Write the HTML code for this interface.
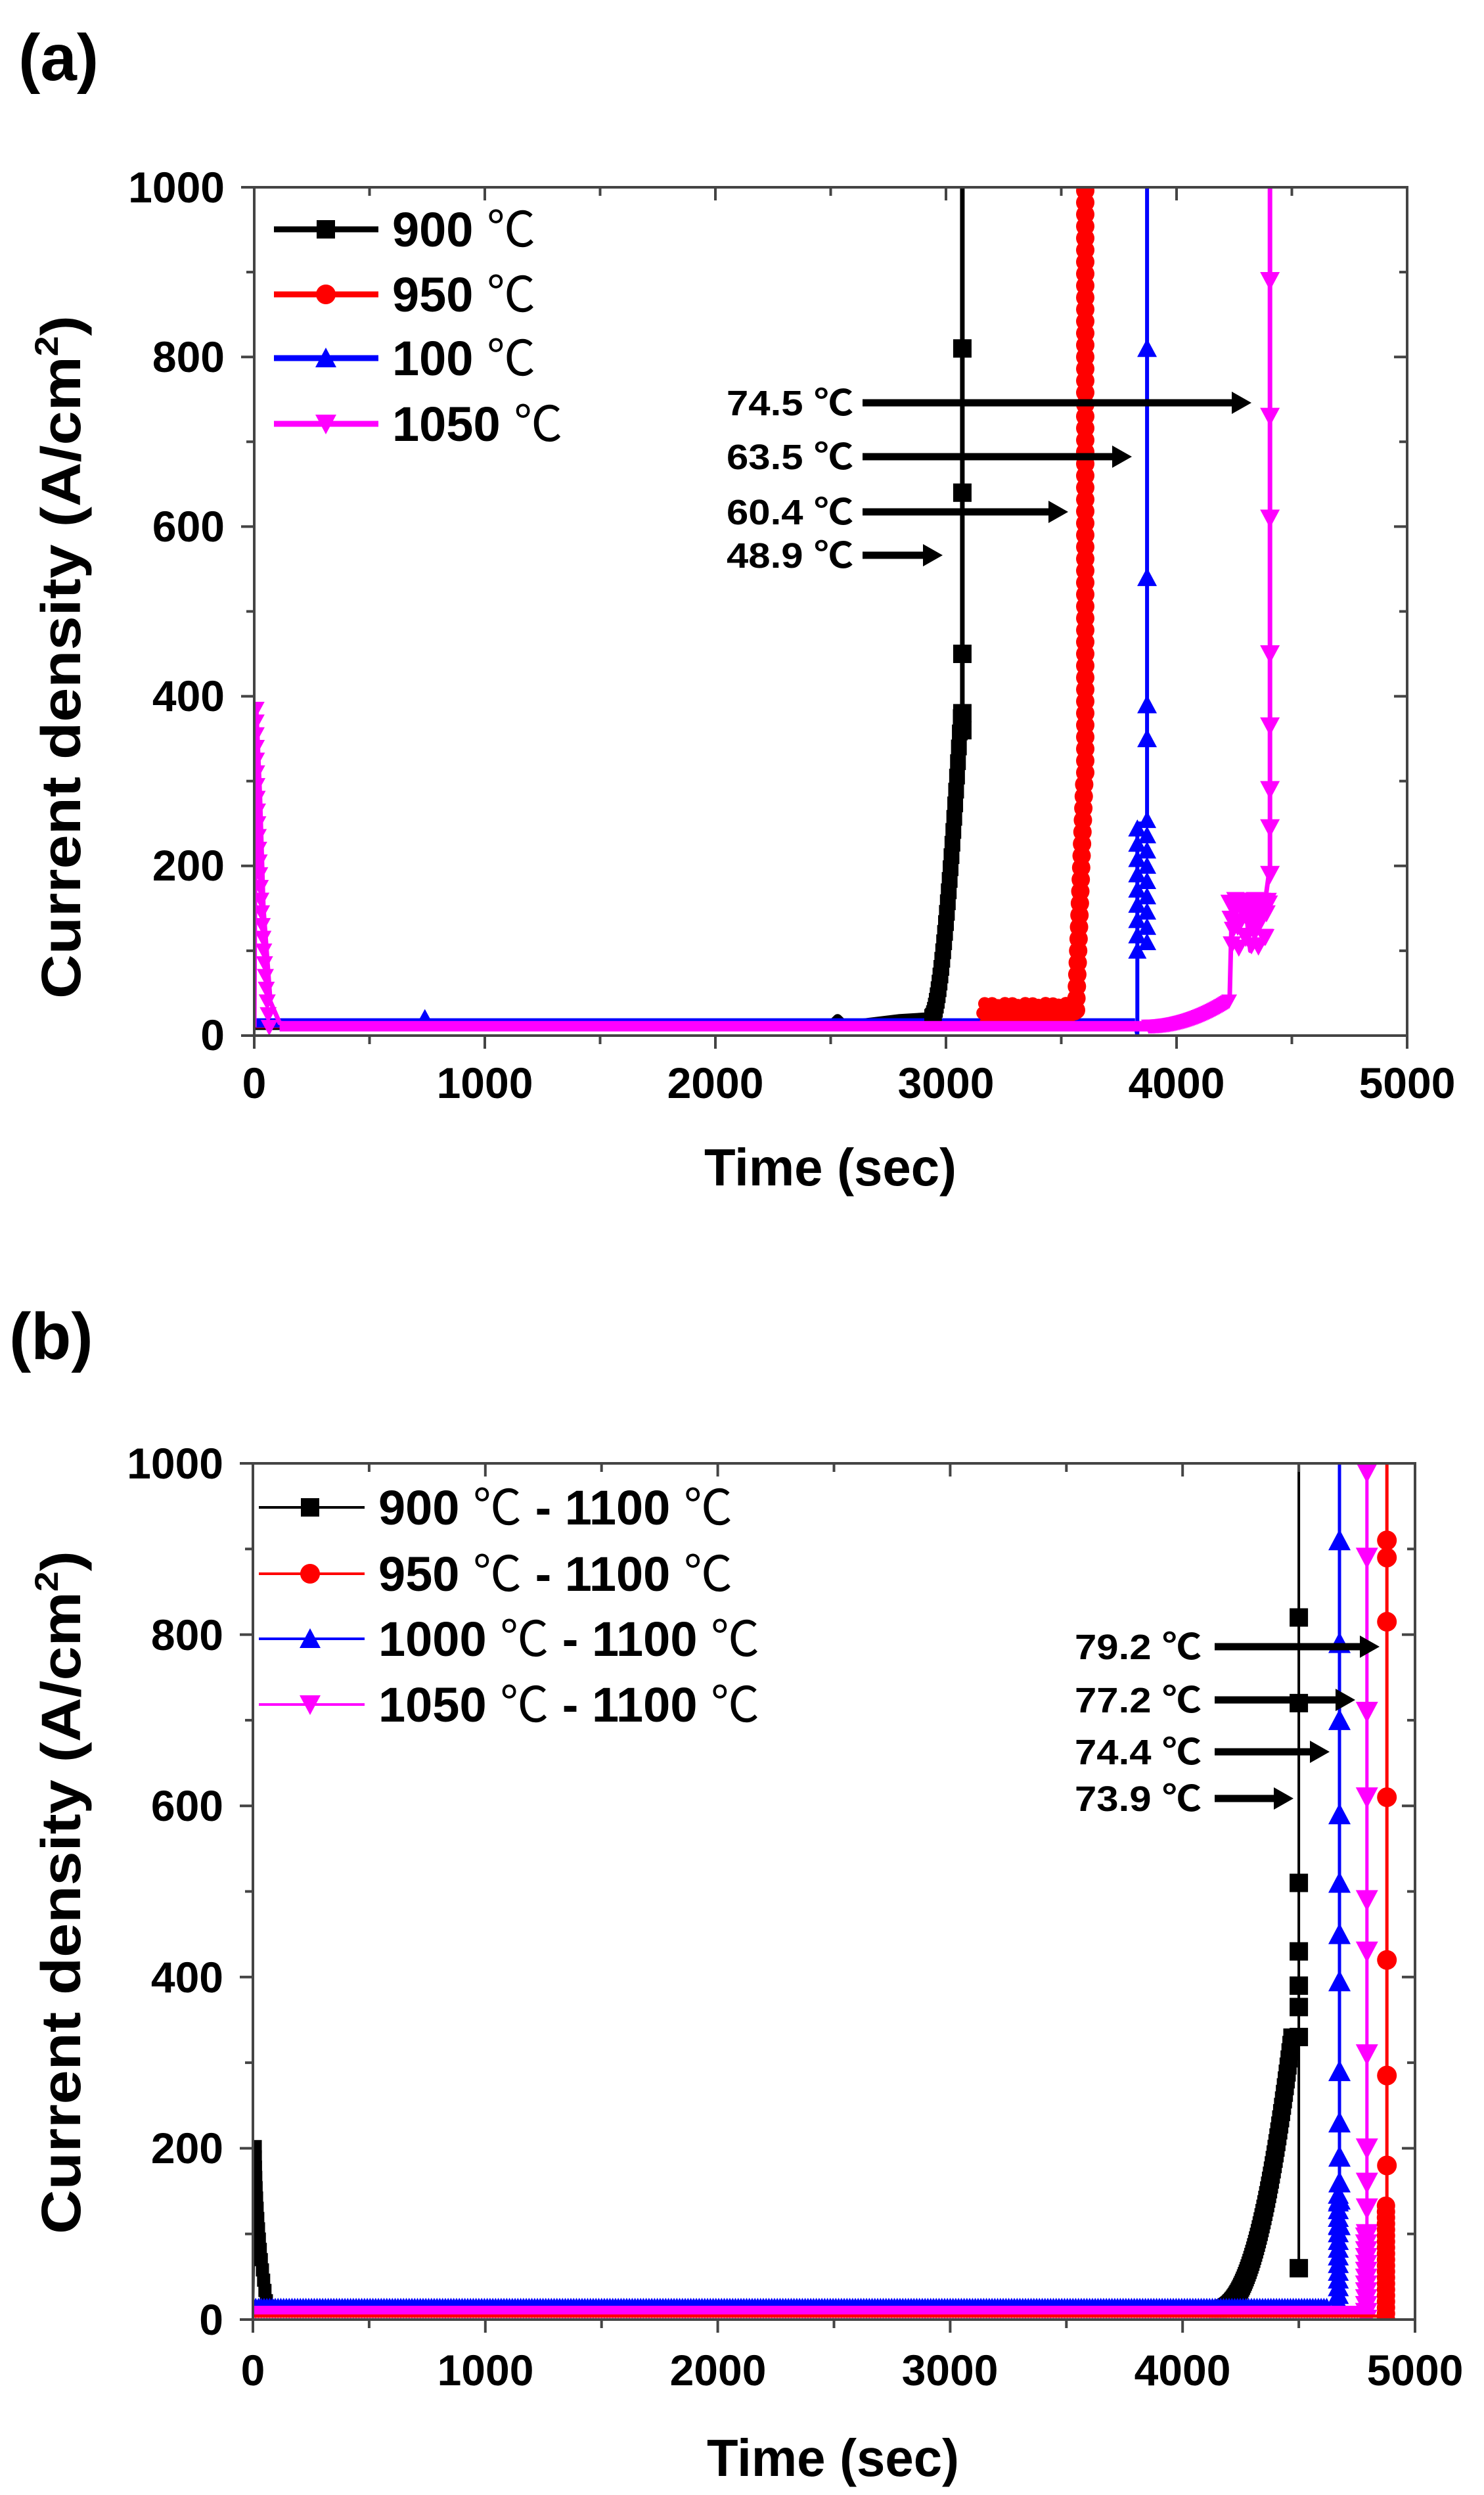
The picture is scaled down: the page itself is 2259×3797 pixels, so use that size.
<!DOCTYPE html>
<html><head><meta charset="utf-8">
<style>
html,body{margin:0;padding:0;background:#fff;}
svg{display:block;}
text{font-family:"Liberation Sans","Noto Sans CJK KR",sans-serif;font-weight:bold;fill:#000;}
</style></head>
<body>
<svg id="s" width="2259" height="3797" viewBox="0 0 2259 3797" xmlns="http://www.w3.org/2000/svg">
<rect width="2259" height="3797" fill="#fff"/>
<g id="data"></g>
<text x="28" y="122" font-size="100">(a)</text>
<text x="14" y="2068" font-size="100">(b)</text>

<g font-size="66" text-anchor="end">
<text x="342" y="308">1000</text>
<text x="342" y="566">800</text>
<text x="342" y="824">600</text>
<text x="342" y="1082">400</text>
<text x="342" y="1340">200</text>
<text x="342" y="1598">0</text>
</g>
<g font-size="66" text-anchor="middle">
<text x="387" y="1671">0</text>
<text x="738" y="1671">1000</text>
<text x="1089" y="1671">2000</text>
<text x="1440" y="1671">3000</text>
<text x="1791" y="1671">4000</text>
<text x="2142" y="1671">5000</text>
</g>
<text x="1264" y="1804" font-size="80" text-anchor="middle" textLength="384" lengthAdjust="spacingAndGlyphs">Time (sec)</text>
<text transform="translate(122,1000) rotate(-90)" font-size="84" text-anchor="middle" textLength="1040" lengthAdjust="spacingAndGlyphs">Current density (A/cm<tspan font-size="50" dy="-34">2</tspan><tspan dy="34">)</tspan></text>

<g font-size="74">
<text x="597" y="375">900 <tspan font-family="Noto Sans CJK KR" font-weight="normal">℃</tspan></text>
<text x="597" y="474">950 <tspan font-family="Noto Sans CJK KR" font-weight="normal">℃</tspan></text>
<text x="597" y="571">100 <tspan font-family="Noto Sans CJK KR" font-weight="normal">℃</tspan></text>
<text x="597" y="671">1050 <tspan font-family="Noto Sans CJK KR" font-weight="normal">℃</tspan></text>
</g>
<g font-size="54">
<text x="1106" y="632" textLength="193" lengthAdjust="spacingAndGlyphs">74.5 ℃</text>
<text x="1106" y="714" textLength="193" lengthAdjust="spacingAndGlyphs">63.5 ℃</text>
<text x="1106" y="798" textLength="193" lengthAdjust="spacingAndGlyphs">60.4 ℃</text>
<text x="1106" y="864" textLength="193" lengthAdjust="spacingAndGlyphs">48.9 ℃</text>
</g>

<g font-size="66" text-anchor="end">
<text x="340" y="2250">1000</text>
<text x="340" y="2511">800</text>
<text x="340" y="2771">600</text>
<text x="340" y="3032">400</text>
<text x="340" y="3292">200</text>
<text x="340" y="3553">0</text>
</g>
<g font-size="66" text-anchor="middle">
<text x="385" y="3630">0</text>
<text x="739" y="3630">1000</text>
<text x="1093" y="3630">2000</text>
<text x="1446" y="3630">3000</text>
<text x="1800" y="3630">4000</text>
<text x="2154" y="3630">5000</text>
</g>
<text x="1268" y="3768" font-size="80" text-anchor="middle" textLength="384" lengthAdjust="spacingAndGlyphs">Time (sec)</text>
<text transform="translate(122,2880) rotate(-90)" font-size="84" text-anchor="middle" textLength="1040" lengthAdjust="spacingAndGlyphs">Current density (A/cm<tspan font-size="50" dy="-34">2</tspan><tspan dy="34">)</tspan></text>

<g font-size="74">
<text x="576" y="2320">900 <tspan font-family="Noto Sans CJK KR" font-weight="normal">℃</tspan> - 1100 <tspan font-family="Noto Sans CJK KR" font-weight="normal">℃</tspan></text>
<text x="576" y="2421">950 <tspan font-family="Noto Sans CJK KR" font-weight="normal">℃</tspan> - 1100 <tspan font-family="Noto Sans CJK KR" font-weight="normal">℃</tspan></text>
<text x="576" y="2520">1000 <tspan font-family="Noto Sans CJK KR" font-weight="normal">℃</tspan> - 1100 <tspan font-family="Noto Sans CJK KR" font-weight="normal">℃</tspan></text>
<text x="576" y="2620">1050 <tspan font-family="Noto Sans CJK KR" font-weight="normal">℃</tspan> - 1100 <tspan font-family="Noto Sans CJK KR" font-weight="normal">℃</tspan></text>
</g>
<g font-size="54">
<text x="1636" y="2525" textLength="193" lengthAdjust="spacingAndGlyphs">79.2 ℃</text>
<text x="1636" y="2606" textLength="193" lengthAdjust="spacingAndGlyphs">77.2 ℃</text>
<text x="1636" y="2685" textLength="193" lengthAdjust="spacingAndGlyphs">74.4 ℃</text>
<text x="1636" y="2756" textLength="193" lengthAdjust="spacingAndGlyphs">73.9 ℃</text>
</g>
</svg>
<script>
(function(){
var g=document.getElementById('data');var out='';
function P(L,T,R,B,tmax){return{x:function(t){return L+(R-L)*t/tmax},y:function(v){return B-(B-T)*v/1000},L:L,T:T,R:R,B:B};}
var A=P(387,285,2142,1576,5000), Bp=P(385,2227,2154,3530,5000);
function line(p,pts,c,w){out+='<polyline fill="none" stroke="'+c+'" stroke-width="'+w+'" stroke-linejoin="round" points="'+pts.map(function(q){return p.x(q[0]).toFixed(1)+','+p.y(q[1]).toFixed(1)}).join(' ')+'"/>';}
function mk(type,x,y,c,s){s=s||14;
 if(type=='sq')out+='<rect x="'+(x-s)+'" y="'+(y-s)+'" width="'+2*s+'" height="'+2*s+'" fill="'+c+'"/>';
 else if(type=='ci')out+='<circle cx="'+x+'" cy="'+y+'" r="'+(s+1)+'" fill="'+c+'"/>';
 else if(type=='up')out+='<polygon points="'+x+','+(y-s-2)+' '+(x-s-2)+','+(y+s)+' '+(x+s+2)+','+(y+s)+'" fill="'+c+'"/>';
 else out+='<polygon points="'+x+','+(y+s+2)+' '+(x-s-2)+','+(y-s)+' '+(x+s+2)+','+(y-s)+'" fill="'+c+'"/>';}
function M(p,type,t,v,c,s){mk(type,p.x(t),p.y(v),c,s);}
function axes(p){
 var c='#444';
 out+='<rect x="'+p.L+'" y="'+p.T+'" width="'+(p.R-p.L)+'" height="'+(p.B-p.T)+'" fill="none" stroke="'+c+'" stroke-width="4"/>';
 for(var t=0;t<=5000;t+=500){var x=p.x(t),l=(t%1000==0)?20:13;
  out+='<line x1="'+x+'" y1="'+p.B+'" x2="'+x+'" y2="'+(p.B+l)+'" stroke="'+c+'" stroke-width="4"/>';
  out+='<line x1="'+x+'" y1="'+p.T+'" x2="'+x+'" y2="'+(p.T+l)+'" stroke="'+c+'" stroke-width="4"/>';}
 for(var v=0;v<=1000;v+=100){var y=p.y(v),l=(v%200==0)?20:12;
  out+='<line x1="'+(p.L-l)+'" y1="'+y+'" x2="'+p.L+'" y2="'+y+'" stroke="'+c+'" stroke-width="4"/>';
  out+='<line x1="'+(p.R-l)+'" y1="'+y+'" x2="'+p.R+'" y2="'+y+'" stroke="'+c+'" stroke-width="4"/>';}
}
function arrow(x1,x2,y){out+='<line x1="'+x1+'" y1="'+y+'" x2="'+(x2-20)+'" y2="'+y+'" stroke="#000" stroke-width="11"/><polygon points="'+(x2-30)+','+(y-17)+' '+x2+','+y+' '+(x2-30)+','+(y+17)+'" fill="#000"/>';}

out+='<clipPath id="ca"><rect x="387" y="285" width="1755" height="1291"/></clipPath><g clip-path="url(#ca)">';
var i,t,v;
// flat bands
line(A,[[0,12],[2500,12],[2530,20],[2560,12],[2800,20],[2920,22]],'#000',14);
line(A,[[0,14],[3150,14]],'#f00',14);
line(A,[[0,15],[3820,15]],'#00f',14);
line(A,[[0,14],[2100,14]],'#00f',12);
// black
line(A,[[2920,22],[2950,60],[2990,150],[3020,250],[3045,330],[3065,380],[3071,380],[3071,1010]],'#000',7);
for(t=2940;t<=3065;t+=4){v=22+(380-22)*Math.pow((t-2940)/125,1.6);M(A,'sq',t,v,'#000',12);}
[810,640,450,380,360].forEach(function(v){M(A,'sq',3071,v,'#000',14)});
// red
line(A,[[3150,14],[3200,35],[3250,42],[3500,32],[3560,32],[3575,120],[3590,300],[3604,500],[3604,1010]],'#f00',7);
for(t=3160;t<=3560;t+=8){M(A,'ci',t,30+8*Math.sin(t),'#f00',9);}
for(v=30;v<=1000;v+=14){var tt=v<300?3560+40*v/300:3604;M(A,'ci',tt,v,'#f00',13);}
// blue
line(A,[[3820,14],[3830,0],[3830,250],[3872,250],[3872,1010]],'#00f',6);
for(v=100;v<=250;v+=18){M(A,'up',3830,v,'#00f',12);M(A,'up',3872,v+10,'#00f',12);}
[810,540,390,350].forEach(function(v){M(A,'up',3872,v,'#00f',13)});
M(A,'up',740,22,'#00f',10);
// magenta
line(A,[[0,10],[8,390],[25,280],[40,150],[70,40],[110,15],[200,10],[3900,10],[4050,18],[4150,30],[4230,40],[4240,150],[4300,150],[4320,100],[4380,150],[4405,200],[4405,1010]],'#f0f',7);
line(A,[[110,11],[3900,11]],'#f0f',16);
for(v=10;v<=390;v+=15){M(A,'dn',8+60*Math.pow(1-v/390,2),v,'#f0f',11);}
for(t=3880;t<=4230;t+=6){M(A,'dn',t,11+30*Math.pow((t-3880)/350,2),'#f0f',10);}
for(t=4230;t<=4400;t+=5){M(A,'dn',t,100+60*Math.abs(Math.sin(t/9)),'#f0f',12);}
[890,730,610,450,365,290,245,190].forEach(function(v){M(A,'dn',4405,v,'#f0f',13)});
out+='</g>';
axes(A);
[['#000','sq',349],['#f00','ci',448],['#00f','up',545],['#f0f','dn',645]].forEach(function(l){out+='<line x1="417" y1="'+l[2]+'" x2="576" y2="'+l[2]+'" stroke="'+l[0]+'" stroke-width="9"/>';mk(l[1],496,l[2],l[0],14);});
arrow(1313,1905,613);arrow(1313,1723,695);arrow(1313,1626,779);arrow(1313,1435,845);

out+='<clipPath id="cb"><rect x="385" y="2227" width="1769" height="1303"/></clipPath><g clip-path="url(#cb)">';
line(Bp,[[0,10],[10,205],[30,120],[60,30],[120,12],[4150,12],[4250,20],[4320,60],[4380,150],[4430,250],[4470,330],[4500,330],[4500,60],[4500,1010]],'#000',4);
for(t=4150;t<=4470;t+=4){var vb=12+318*Math.pow((t-4150)/320,2.2);M(Bp,'sq',t,vb,'#000',13);}
for(v=10;v<=205;v+=12){M(Bp,'sq',10+60*Math.pow(1-v/205,2),v,'#000',10);}
[820,720,510,430,390,365,330,60].forEach(function(v){M(Bp,'sq',4500,v,'#000',14)});
line(Bp,[[0,18],[4620,18],[4675,20],[4675,1010]],'#00f',5);
for(t=0;t<=4620;t+=12){M(Bp,'up',t,17,'#00f',9);}
for(v=20;v<=150;v+=9){M(Bp,'up',4670,v,'#00f',14);}
[910,790,700,590,510,450,395,290,230,190,160,140,110].forEach(function(v){M(Bp,'up',4675,v,'#00f',15)});
line(Bp,[[0,8],[4760,8],[4793,20],[4793,1010]],'#f0f',5);
for(t=0;t<=4760;t+=12){M(Bp,'dn',t,9,'#f0f',9);}
for(v=0;v<=100;v+=8){M(Bp,'dn',4790,v,'#f0f',15);}
[990,890,710,610,490,430,310,200,160,130,100].forEach(function(v){M(Bp,'dn',4793,v,'#f0f',15)});
line(Bp,[[0,4],[4840,4],[4879,20],[4879,1010]],'#f00',5);
for(v=0;v<=135;v+=7){M(Bp,'ci',4875,v,'#f00',13);}
[910,890,815,610,420,285,180].forEach(function(v){M(Bp,'ci',4879,v,'#f00',14)});
out+='</g>';
axes(Bp);
[['#000','sq',2294],['#f00','ci',2395],['#00f','up',2494],['#f0f','dn',2594]].forEach(function(l){out+='<line x1="394" y1="'+l[2]+'" x2="555" y2="'+l[2]+'" stroke="'+l[0]+'" stroke-width="4"/>';mk(l[1],472,l[2],l[0],14);});
arrow(1849,2100,2506);arrow(1849,2063,2587);arrow(1849,2024,2666);arrow(1849,1969,2737);
g.innerHTML=out;
})();
</script>
</body></html>
